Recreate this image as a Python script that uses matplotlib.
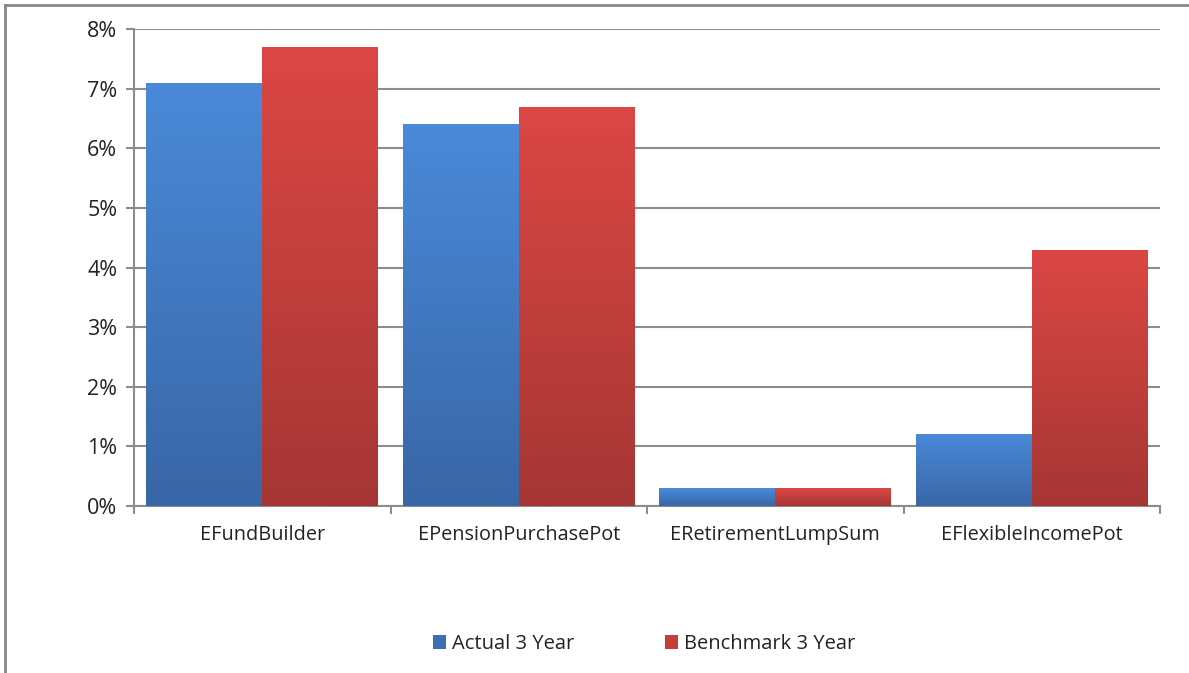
import numpy as np
import matplotlib.pyplot as plt
from matplotlib.colors import LinearSegmentedColormap
from matplotlib.lines import Line2D
from matplotlib.patches import Patch

plt.rcParams['font.family'] = ['Open Sans', 'DejaVu Sans']

categories = ['EFundBuilder', 'EPensionPurchasePot', 'ERetirementLumpSum', 'EFlexibleIncomePot']
actual = [7.1, 6.4, 0.3, 1.2]
benchmark = [7.7, 6.7, 0.3, 4.3]
series_names = ['Actual 3 Year', 'Benchmark 3 Year']

blue_cmap = LinearSegmentedColormap.from_list('b', ['#3966a6', '#4a8ad9'])
red_cmap = LinearSegmentedColormap.from_list('r', ['#a53634', '#dc4744'])

fig = plt.figure(figsize=(11.89, 6.73), dpi=100)
ax = fig.add_axes([0.1127, 0.2481, 0.8630, 0.7088])

x = np.arange(len(categories))
w = 0.452
grad = np.linspace(0, 1, 256).reshape(-1, 1)

def grad_bars(xs, vals, cmap):
    bars = ax.bar(xs, vals, w, color='none', edgecolor='none')
    for b in bars:
        x0, y0 = b.get_x(), b.get_y()
        im = ax.imshow(grad, cmap=cmap, origin='lower', aspect='auto',
                       extent=[x0, x0 + b.get_width(), y0, y0 + b.get_height()],
                       zorder=3)
        im.set_clip_path(b)
    return bars

grad_bars(x - w / 2, actual, blue_cmap)
grad_bars(x + w / 2, benchmark, red_cmap)

ax.set_xlim(-0.5, len(categories) - 0.5)
ax.set_ylim(0, 8)
ax.set_yticks(range(0, 9))
ax.set_yticklabels([f'{i}%' for i in range(0, 9)])
ax.yaxis.grid(True, color='#8c8c8c', linewidth=1.5)
ax.set_axisbelow(True)

ax.set_xticks(np.arange(-0.5, len(categories), 1))
ax.set_xticklabels([])
ax.set_xticks(x, minor=True)
ax.set_xticklabels(categories, minor=True)
ax.tick_params(axis='x', which='minor', length=0, pad=14, labelsize=14.3, labelcolor='#222222')
ax.tick_params(axis='x', which='major', length=6, width=1.5, color='#8c8c8c')
ax.tick_params(axis='y', length=6, width=1.5, color='#8c8c8c', labelsize=15.5,
               labelcolor='#222222', pad=6)

for s in ['top', 'right']:
    ax.spines[s].set_visible(False)
for s in ['left', 'bottom']:
    ax.spines[s].set_color('#8c8c8c')
    ax.spines[s].set_linewidth(1.5)

handles = [Patch(facecolor='#3d6eb3'), Patch(facecolor='#c63d3b')]
fig.legend(handles, series_names, loc='center', bbox_to_anchor=(0.542, 0.043), ncol=2,
           frameon=False, fontsize=14.5, handlelength=0.65, handleheight=0.65,
           handletextpad=0.3, columnspacing=4.5, labelcolor='#222222')

# outer chart frame (top and left edges visible)
fig.add_artist(Line2D([5 / 1189, 1], [1 - 5 / 673, 1 - 5 / 673], color='#888888', linewidth=2))
fig.add_artist(Line2D([5 / 1189, 5 / 1189], [0, 1 - 5 / 673], color='#888888', linewidth=2))

fig.savefig('out.png', dpi=100)
